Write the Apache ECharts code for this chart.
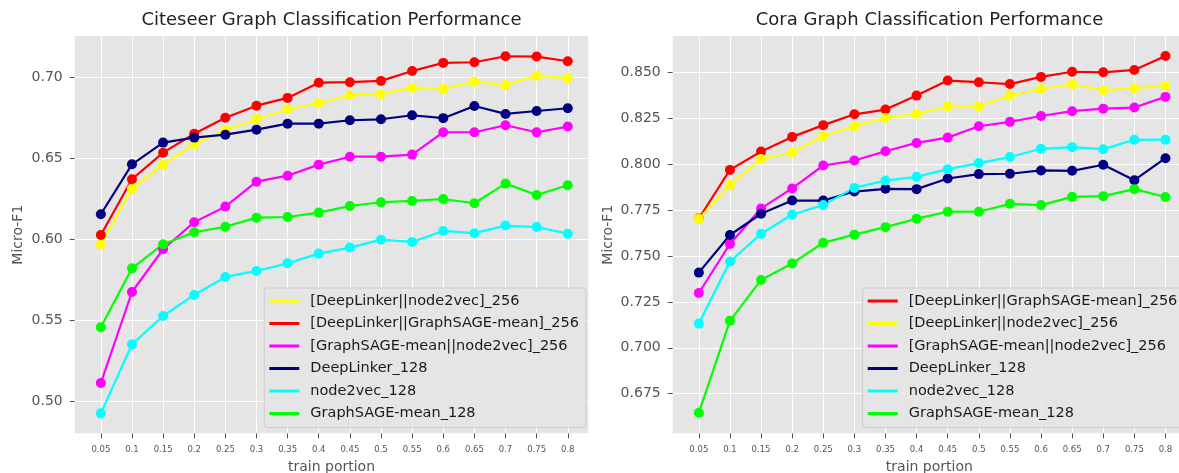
<!DOCTYPE html>
<html>
<head>
<meta charset="utf-8">
<script src="https://cdn.jsdelivr.net/npm/echarts@6.0.0/dist/echarts.min.js"></script>
<style>
  html, body { margin: 0; padding: 0; background: #fff; }
  #chart { width: 1179px; height: 473px; }
</style>
</head>
<body>
<div id="chart"></div>
<script>
// x values (train portion)
const trainPortion = [0.05, 0.1, 0.15, 0.2, 0.25, 0.3, 0.35, 0.4, 0.45, 0.5, 0.55, 0.6, 0.65, 0.7, 0.75, 0.8]

// Citeseer
const citeseerDlN2v = [0.597, 0.6315, 0.6463, 0.6589, 0.6677, 0.6743, 0.6805, 0.6842, 0.6891, 0.6898, 0.6938, 0.693, 0.6975, 0.6955, 0.7012, 0.6996]
const citeseerDlSage = [0.6029, 0.6373, 0.6537, 0.6654, 0.6753, 0.6827, 0.6875, 0.6969, 0.6972, 0.698, 0.7041, 0.7091, 0.7095, 0.7132, 0.713, 0.7101]
const citeseerSageN2v = [0.5115, 0.5677, 0.5941, 0.6108, 0.6204, 0.6358, 0.6395, 0.6463, 0.6512, 0.6512, 0.6525, 0.6663, 0.6663, 0.6706, 0.6663, 0.6698]
const citeseerDl = [0.6157, 0.6465, 0.6599, 0.663, 0.6648, 0.6679, 0.6716, 0.6716, 0.6737, 0.6743, 0.6768, 0.675, 0.6825, 0.6776, 0.6794, 0.6811]
const citeseerN2v = [0.4928, 0.5354, 0.5529, 0.5659, 0.577, 0.5807, 0.5854, 0.5914, 0.5951, 0.6, 0.5986, 0.6054, 0.604, 0.6087, 0.6078, 0.6037]
const citeseerSage = [0.5459, 0.5823, 0.5972, 0.6046, 0.608, 0.6136, 0.614, 0.6167, 0.6208, 0.6231, 0.6239, 0.6251, 0.6225, 0.6346, 0.6276, 0.6336]

// Cora
const coraDlSage = [0.7705, 0.797, 0.807, 0.815, 0.8214, 0.8273, 0.8299, 0.8375, 0.8457, 0.8448, 0.8438, 0.8477, 0.8505, 0.8502, 0.8515, 0.8591]
const coraDlN2v = [0.7703, 0.7889, 0.8029, 0.8065, 0.8155, 0.8208, 0.8253, 0.8275, 0.8317, 0.8317, 0.8375, 0.8411, 0.8437, 0.8404, 0.8415, 0.8429]
const coraSageN2v = [0.7299, 0.7566, 0.776, 0.7869, 0.7994, 0.8021, 0.8072, 0.8117, 0.8146, 0.8208, 0.8232, 0.8264, 0.829, 0.8304, 0.831, 0.8368]
const coraDl = [0.741, 0.7615, 0.7731, 0.7803, 0.7803, 0.7852, 0.7867, 0.7865, 0.7923, 0.7947, 0.7949, 0.7967, 0.7965, 0.7998, 0.7914, 0.8034]
const coraN2v = [0.7132, 0.747, 0.7622, 0.7727, 0.7778, 0.7872, 0.7912, 0.7932, 0.7974, 0.8007, 0.804, 0.8085, 0.8094, 0.8083, 0.8134, 0.8135]
const coraSage = [0.6646, 0.7147, 0.737, 0.746, 0.7573, 0.7617, 0.7658, 0.7704, 0.7742, 0.7742, 0.7785, 0.7778, 0.7823, 0.7827, 0.7865, 0.7822]

// tick labels
const citeseerYTicks = [0.50, 0.55, 0.60, 0.65, 0.70]
const coraYTicks = [0.675, 0.700, 0.725, 0.750, 0.775, 0.800, 0.825, 0.850]

const NAME_DL_N2V = '[DeepLinker||node2vec]_256'
const NAME_DL_SAGE = '[DeepLinker||GraphSAGE-mean]_256'
const NAME_SAGE_N2V = '[GraphSAGE-mean||node2vec]_256'
const NAME_DL = 'DeepLinker_128'
const NAME_N2V = 'node2vec_128'
const NAME_SAGE = 'GraphSAGE-mean_128'

const colors = {}
colors[NAME_DL_N2V] = '#ffff00'
colors[NAME_DL_SAGE] = '#ff0000'
colors[NAME_SAGE_N2V] = '#ff00ff'
colors[NAME_DL] = '#000080'
colors[NAME_N2V] = '#00ffff'
colors[NAME_SAGE] = '#00ff00'

const FONT = 'DejaVu Sans'
const TICK_COLOR = '#555'

const makeLine = (name, values, idx) => ({
  name: name,
  type: 'line',
  xAxisIndex: idx,
  yAxisIndex: idx,
  data: values.map((v, i) => [trainPortion[i], v]),
  symbol: 'circle',
  symbolSize: 10,
  showSymbol: true,
  color: colors[name],
  lineStyle: { width: 2.2, color: colors[name] },
  itemStyle: { color: colors[name] },
  emphasis: { disabled: true },
  animation: false
})

const xAxisFor = (idx) => ({
  type: 'value',
  gridIndex: idx,
  min: 0.008,
  max: 0.833,
  name: 'train portion',
  nameLocation: 'middle',
  nameGap: 27,
  nameTextStyle: { color: TICK_COLOR, fontSize: 14, fontFamily: FONT },
  axisLine: { show: false },
  axisTick: { show: true, length: 5, lineStyle: { color: TICK_COLOR }, customValues: trainPortion },
  axisLabel: {
    color: TICK_COLOR, fontSize: 8.5, fontFamily: FONT, margin: 12,
    customValues: trainPortion,
    formatter: (v) => String(+v.toFixed(2))
  },
  splitLine: { show: true, lineStyle: { color: '#ffffff', width: 1 } }
})

const yAxisFor = (idx, min, max, ticks, digits, gap) => ({
  type: 'value',
  gridIndex: idx,
  min: min,
  max: max,
  name: 'Micro-F1',
  nameLocation: 'middle',
  nameGap: gap,
  nameTextStyle: { color: TICK_COLOR, fontSize: 14, fontFamily: FONT },
  axisLine: { show: false },
  axisTick: { show: true, length: 5, lineStyle: { color: TICK_COLOR }, customValues: ticks },
  axisLabel: {
    color: TICK_COLOR, fontSize: 14, fontFamily: FONT, margin: 12,
    customValues: ticks,
    formatter: (v) => v.toFixed(digits)
  },
  splitLine: { show: true, lineStyle: { color: '#ffffff', width: 1 } }
})

const legendFor = (left, names) => ({
  orient: 'vertical',
  left: left,
  top: 288,
  data: names,
  icon: 'rect',
  itemWidth: 30,
  itemHeight: 3,
  itemGap: 6.5,
  padding: [5, 7, 6, 5],
  backgroundColor: 'rgba(229,229,229,0.85)',
  borderColor: '#cccccc',
  borderWidth: 1,
  borderRadius: 3,
  selectedMode: false,
  textStyle: { color: '#1a1a1a', fontSize: 14.5, fontFamily: FONT, lineHeight: 16, padding: [0, 0, 0, 6] }
})

const chart = echarts.init(document.getElementById('chart'), null, { renderer: 'canvas' })

const option = {
  backgroundColor: '#ffffff',
  animation: false,
  textStyle: { fontFamily: FONT },
  title: [
    {
      text: 'Citeseer Graph Classification Performance',
      left: 331.5, top: 11.5, textAlign: 'center', padding: 0,
      textStyle: { color: '#222', fontSize: 18, fontWeight: 'normal', fontFamily: FONT }
    },
    {
      text: 'Cora Graph Classification Performance',
      left: 929.5, top: 11.5, textAlign: 'center', padding: 0,
      textStyle: { color: '#222', fontSize: 18, fontWeight: 'normal', fontFamily: FONT }
    }
  ],
  grid: [
    { left: 74.7, top: 36, right: 590.7, bottom: 39.7, outerBoundsMode: 'none', containLabel: false, show: true, backgroundColor: '#e5e5e5', borderWidth: 0 },
    { left: 672.7, top: 36, right: -7, bottom: 39.7, outerBoundsMode: 'none', containLabel: false, show: true, backgroundColor: '#e5e5e5', borderWidth: 0 }
  ],
  xAxis: [xAxisFor(0), xAxisFor(1)],
  yAxis: [
    yAxisFor(0, 0.4805, 0.7257, citeseerYTicks, 2, 49),
    yAxisFor(1, 0.6534, 0.870, coraYTicks, 3, 57.5)
  ],
  legend: [
    legendFor(264.3, [NAME_DL_N2V, NAME_DL_SAGE, NAME_SAGE_N2V, NAME_DL, NAME_N2V, NAME_SAGE]),
    legendFor(862.7, [NAME_DL_SAGE, NAME_DL_N2V, NAME_SAGE_N2V, NAME_DL, NAME_N2V, NAME_SAGE])
  ],
  series: [
    makeLine(NAME_DL_N2V, citeseerDlN2v, 0),
    makeLine(NAME_DL_SAGE, citeseerDlSage, 0),
    makeLine(NAME_SAGE_N2V, citeseerSageN2v, 0),
    makeLine(NAME_DL, citeseerDl, 0),
    makeLine(NAME_N2V, citeseerN2v, 0),
    makeLine(NAME_SAGE, citeseerSage, 0),
    makeLine(NAME_DL_SAGE, coraDlSage, 1),
    makeLine(NAME_DL_N2V, coraDlN2v, 1),
    makeLine(NAME_SAGE_N2V, coraSageN2v, 1),
    makeLine(NAME_DL, coraDl, 1),
    makeLine(NAME_N2V, coraN2v, 1),
    makeLine(NAME_SAGE, coraSage, 1)
  ]
}

chart.setOption(option)
</script>
</body>
</html>
